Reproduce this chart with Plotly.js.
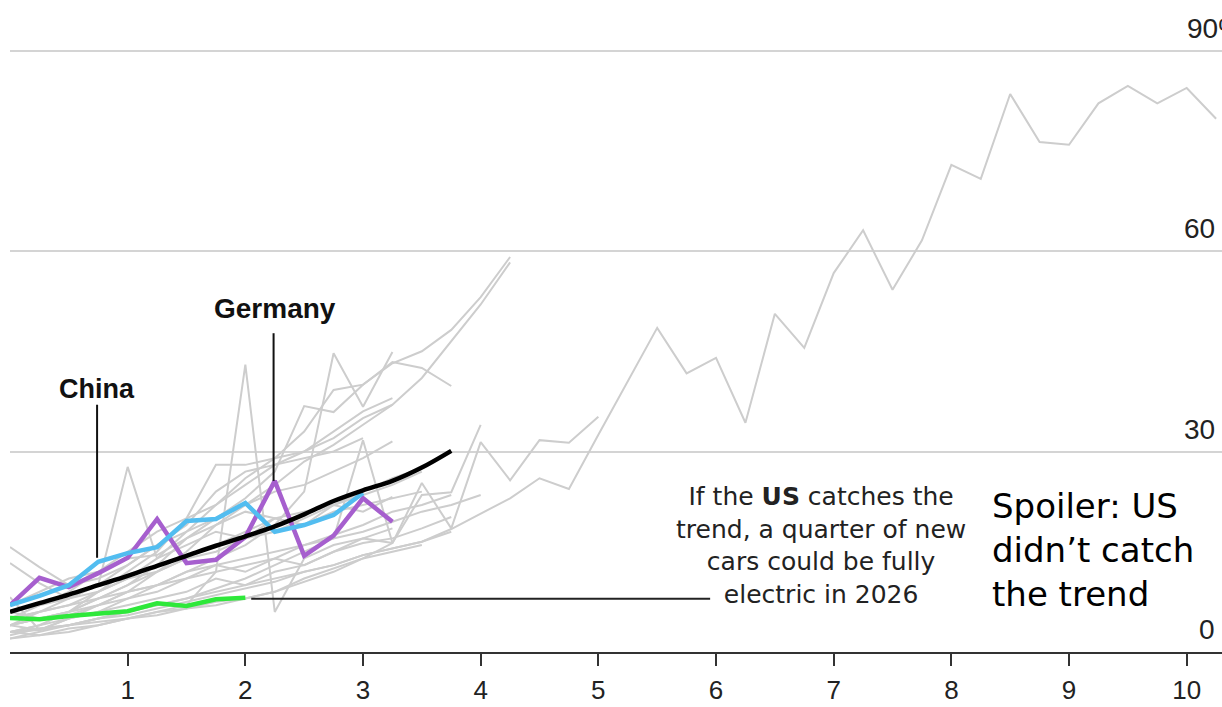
<!DOCTYPE html>
<html>
<head>
<meta charset="utf-8">
<script src="https://cdn.plot.ly/plotly-3.0.1.min.js"></script>
<style>
html,body{margin:0;padding:0;background:#fff;overflow:hidden;}
#chart{width:1222px;height:707px;}
</style>
</head>
<body>
<div id="chart"></div>
<script>
// Years since start (quarterly steps)
const step = 0.25;
const xTicks = [1,2,3,4,5,6,7,8,9,10];
const yGrid = [30,60,90];
const yLabels = ["30","60","90%"];

// Highlighted series (% share of new car sales)
const china   = [7.0,8.4,10.0,13.5,14.8,15.7,19.6,19.9,22.3,18.0,19.0,20.5,23.8];
const germany = [7.0,11.1,9.7,11.8,14.1,19.9,13.3,13.8,17.2,25.6,14.4,17.4,23.0,19.5];
const us      = [5.1,4.9,5.4,5.8,6.1,7.3,6.9,7.9,8.1];
const trend   = [6.0,7.3,8.6,10.0,11.4,12.9,14.4,15.9,17.3,18.8,20.6,22.6,24.2,25.6,27.6,30.1];

// Other countries (grey)
const others = [
  [2.5,3.5,4,5,5.5,6.5,7.5,8.5,9.5,10.5,12,13,14.5,15.5,16.5,18.4,20.7,23,26,24.4,32.5,40.6,48.5,41.7,44,34.3,50.6,45.5,56.7,63.1,54.2,61.6,72.9,70.8,83.5,76.3,75.9,82.1,84.7,82.1,84.4,79.8],
  [3,2.5,3.5,4,5,5.5,6.5,7,8,9,11,12.5,14,16.3,25.3,18.5,31.4,25.7,31.7,31.3,35.2],
  [5,6,7,9,11,14,18,22,26,29,33,39.2,40,43.2,45,48.2,53.1,59.1],
  [4,5,6,7,9,12,15,19,22,25,28.5,31,34,37,41,46.5,52,58.3],
  [4,5,6,8,10,13,17,20,23,27,36.8,35.9,40,43.4,42.5,39.8],
  [3,4,5,6,8,10,12,14,16,19,24,44.7,36.7,44.9],
  [3,3.5,4,5,6,7,8,9.5,11,13,15,17,31.7,16.3,23.5,23.9,34.0],
  [2,2.5,3,4,5,6,7,12,43,6,14,16,17,18.5],
  [5,7,8,10,27.7,14,16,18,17,20,19,22,21,23.2],
  [15.7,12.7,10,11,13,16,18,20,22,24,25,27,29,31.5],
  [13.3,10.3,8,9,11,12,14,15,17,18,20,22,24,26,27.5],
  [3,3.3,4,4.5,5,6,6.5,7.5,8,9,10.5,12,14,15,16],
  [4,3.3,5,6,7,8,9,11,10,12,13,15,16.3,17,18.5,20.2],
  [8.2,3.3,5,7,9,10,11,13,12,14,13,15,17,16.3],
  [5,6,7,8,10,12,14,16,18,20,21,22,23.5,25,27],
  [6,7,9,12,15,18,20,22,25,28,30,33,36,38],
  [4,6,8,10,13,16,19,24,27,28,29,30,32],
  [3,4,6,9,12,15,20,28,28,29,30,32,35,37],
  [7,9,11,12,14,14.5,17,19,21,20,19,21,22,23,24],
  [6,5,6,8,9,10,12,13,14,15,16,17,18,19.5,21,22,23.5],
  [4,5,5.5,7,8,9,11,12,13,14,16,17.5,19,21,22,23.5],
  [2,3,4,5,6,7,8,9,10,11,12,13,14.5,15.5,16.5,18]
];

const xsOf = arr => arr.map((_, i) => i * step);

const traces = [];
others.forEach(v => traces.push({
  x: xsOf(v), y: v, type: 'scatter', mode: 'lines',
  line: {color: '#cdcdcd', width: 2}, hoverinfo: 'skip'
}));
traces.push({x: xsOf(us), y: us, type:'scatter', mode:'lines', line:{color:'#2ee83a', width:4.5}});
traces.push({x: xsOf(germany), y: germany, type:'scatter', mode:'lines', line:{color:'#a65fce', width:4.5}});
traces.push({x: xsOf(china), y: china, type:'scatter', mode:'lines', line:{color:'#52bdf0', width:4.5}});
traces.push({x: xsOf(trend), y: trend, type:'scatter', mode:'lines', line:{color:'#000', width:4.5, shape:'spline'}});

const chinaIdx = 3, germanyIdx = 9;
const usLast = us[us.length-1];
const usLastX = (us.length-1)*step;

const shapes = [
  {type:'line', xref:'x', yref:'y', x0: chinaIdx*step - 0.01, x1: chinaIdx*step - 0.01, y0: 37.0, y1: china[chinaIdx] + 0.6, line:{color:'#111', width:2}},
  {type:'line', xref:'x', yref:'y', x0: germanyIdx*step - 0.01, x1: germanyIdx*step - 0.01, y0: 47.7, y1: germany[germanyIdx], line:{color:'#111', width:2}},
  {type:'line', xref:'x', yref:'y', x0: usLastX + 0.05, x1: 5.95, y0: usLast - 0.15, y1: usLast - 0.15, line:{color:'#222', width:2}}
];

const fontNum = {family:'Liberation Sans, Arial, sans-serif', size:28, color:'#222'};
const fontTick = {family:'Liberation Sans, Arial, sans-serif', size:26, color:'#222'};
const annotations = [];
yGrid.forEach((g, i) => {
  const lab = yLabels[i];
  annotations.push({
    xref:'paper', yref:'y', x: lab.endsWith('%') ? 0.9695 : 0.9959, y: g,
    xanchor: lab.endsWith('%') ? 'left' : 'right', yanchor:'bottom', yshift: 5,
    text: lab, showarrow:false, font: fontNum
  });
});
annotations.push({xref:'paper', yref:'y', x:0.9959, y:0, xanchor:'right', yanchor:'bottom', yshift:5, text:'0', showarrow:false, font: fontNum});

annotations.push({xref:'x', yref:'y', x: chinaIdx*step - 0.01, y: 36.8, xanchor:'center', yanchor:'bottom',
  text:'<b>China</b>', showarrow:false, font:{family:'Liberation Sans, Arial, sans-serif', size:27, color:'#111'}});
annotations.push({xref:'x', yref:'y', x: germanyIdx*step + 0.0, y: 48.8, xanchor:'center', yanchor:'bottom',
  text:'<b>Germany</b>', showarrow:false, font:{family:'Liberation Sans, Arial, sans-serif', size:28, color:'#111'}});
annotations.push({xref:'x', yref:'y', x: 6.89, y: 16.0, xanchor:'center', yanchor:'middle', align:'center',
  text:'If the <b>US</b> catches the<br>trend, a quarter of new<br>cars could be fully<br>electric in 2026',
  showarrow:false, font:{family:'DejaVu Sans', size:25, color:'#222'}});
annotations.push({xref:'x', yref:'y', x: 8.33, y: 15.3, xanchor:'left', yanchor:'middle', align:'left',
  text:'Spoiler: US<br>didn’t catch<br>the trend',
  showarrow:false, font:{family:'DejaVu Sans', size:34, color:'#000'}});

const layout = {
  width:1222, height:707,
  margin:{l:10, r:0, t:0, b:55},
  paper_bgcolor:'#fff', plot_bgcolor:'#fff',
  showlegend:false,
  xaxis:{range:[0,10.3], tickvals:xTicks, ticktext:xTicks.map(String), ticks:'outside', ticklen:12, tickwidth:2, tickcolor:'#333',
    ticklabelstandoff:2,
    showline:true, linecolor:'#333', linewidth:2, showgrid:false, zeroline:false, tickfont:fontTick, fixedrange:true},
  yaxis:{range:[0,97.56], tickvals:yGrid, showticklabels:false, showgrid:true, gridcolor:'#d4d4d4', gridwidth:2,
    zeroline:false, showline:false, ticks:'', fixedrange:true},
  shapes: shapes,
  annotations: annotations
};

Plotly.newPlot('chart', traces, layout, {displayModeBar:false, staticPlot:true});
</script>
</body>
</html>
